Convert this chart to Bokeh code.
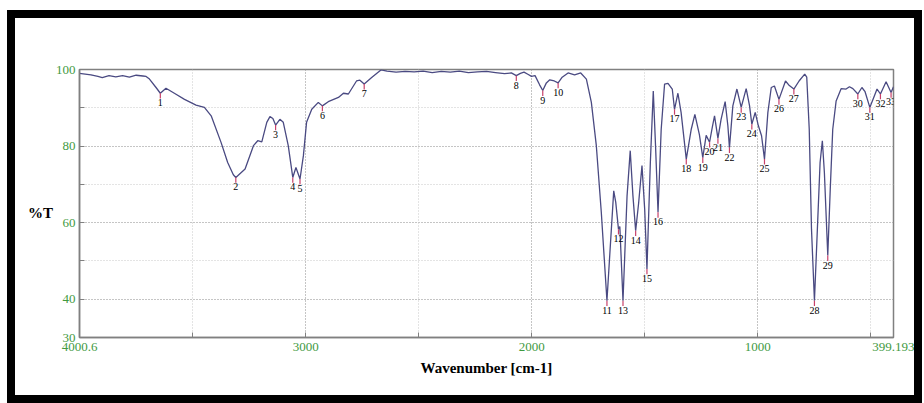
from bokeh.plotting import figure
from bokeh.models import Range1d, FixedTicker, Grid, ColumnDataSource
from bokeh.embed import file_html
from bokeh.resources import INLINE
from bokeh.core.properties import value

# ---- spectrum ----
wavenumber = [4000.6, 3950, 3919, 3900, 3870, 3840, 3810, 3780, 3750, 3720, 3706, 3691, 3662, 3643,
              3618, 3581, 3536, 3485, 3448, 3418, 3374, 3345, 3320, 3309, 3268, 3231, 3212, 3194,
              3172, 3158, 3145, 3133, 3114, 3099, 3077, 3057, 3043, 3025, 3010, 2996, 2973, 2944,
              2926, 2900, 2855, 2833, 2811, 2775, 2760, 2741, 2708, 2667, 2640, 2600, 2560, 2520,
              2480, 2440, 2400, 2360, 2320, 2280, 2240, 2200, 2160, 2120, 2090, 2068, 2050, 2034,
              2015, 2001, 1985, 1965, 1951, 1935, 1920, 1900, 1883, 1865, 1839, 1810, 1783, 1758,
              1736, 1714, 1692, 1667, 1652, 1637, 1628, 1616, 1610, 1596, 1578, 1564, 1552, 1540,
              1527, 1512, 1500, 1490, 1475, 1462, 1452, 1441, 1427, 1412, 1397, 1378, 1368, 1353,
              1339, 1316, 1294, 1278, 1258, 1243, 1228, 1213, 1201, 1191, 1176, 1162, 1144, 1132,
              1125, 1110, 1092, 1073, 1051, 1036, 1026, 1011, 997, 983, 970, 955, 940, 926, 906,
              877, 860, 840, 817, 792, 783, 772, 762, 749, 736, 724, 714, 705, 690, 679, 668, 653,
              631, 609, 594, 579, 557, 539, 525, 504, 484, 472, 457, 432, 410, 399.193]
transmittance = [99.0, 98.6, 98.2, 97.9, 98.4, 98.1, 98.4, 98.0, 98.5, 98.3, 98.2, 97.5, 95.3, 93.8,
                 95.1, 93.8, 92.2, 90.7, 90.1, 87.9, 80.9, 75.7, 72.5, 71.8, 74.0, 80.1, 81.4, 81.1,
                 86.2, 87.7, 87.2, 85.5, 87.0, 86.2, 80.1, 71.8, 74.4, 71.4, 77.5, 86.2, 89.6, 91.4,
                 90.5, 91.6, 92.7, 93.8, 93.6, 97.0, 97.2, 96.2, 97.9, 99.9, 99.6, 99.3, 99.5, 99.4,
                 99.6, 99.2, 99.5, 99.3, 99.6, 99.2, 99.4, 99.5, 99.2, 98.9, 99.1, 98.4, 99.0, 99.3,
                 98.7, 98.2, 98.4, 96.0, 94.5, 96.5, 97.3, 97.0, 96.5, 98.0, 99.1, 98.6, 99.1, 97.5,
                 91.4, 80.1, 62.7, 39.6, 54.0, 68.3, 65.3, 58.3, 59.0, 39.6, 67.0, 78.8, 67.0, 57.9,
                 65.0, 74.9, 63.5, 47.9, 75.7, 94.4, 80.1, 62.7, 84.4, 96.2, 96.4, 94.9, 89.6, 93.8,
                 88.8, 76.6, 84.4, 88.3, 83.0, 77.0, 82.8, 81.0, 84.9, 87.9, 82.0, 87.0, 91.6, 85.3,
                 79.6, 90.5, 94.9, 90.1, 95.0, 90.5, 85.7, 88.8, 85.3, 82.7, 76.6, 88.8, 95.3, 95.7, 92.2,
                 97.0, 95.8, 94.9, 97.0, 98.8, 98.0, 84.4, 58.3, 39.6, 58.3, 75.7, 81.4, 73.1, 51.4, 68.8, 84.4, 91.8,
                 95.0, 94.9, 95.5, 95.0, 93.6, 95.3, 94.2, 90.1, 93.1, 94.9, 93.6, 96.8, 94.0, 95.5]

# ---- picked peaks ----
peak_labels = [str(i) for i in range(1, 34)]
peak_wn = [3643, 3309, 3133, 3057, 3025, 2926, 2741, 2068, 1951, 1883, 1667, 1616, 1596, 1540,
           1490, 1441, 1368, 1316, 1243, 1213, 1176, 1125, 1073, 1026, 970, 906, 840, 749, 690,
           557, 504, 457, 410]
peak_t = [93.8, 71.8, 85.5, 71.8, 71.4, 90.5, 96.2, 98.4, 94.5, 96.5, 39.6, 58.3, 39.6, 57.9,
          47.9, 62.7, 89.6, 76.6, 77.0, 81.0, 82.0, 79.6, 90.1, 85.7, 76.6, 92.2, 94.9, 39.6, 51.4,
          93.6, 90.1, 93.6, 94.0]

# ---- axes ticks ----
x_ticks = [4000.6, 3000, 2000, 1000, 399.193]
x_tick_labels = ["4000.6", "3000", "2000", "1000", "399.193"]
x_minor = [3500, 2500, 1500, 500]
y_ticks = [100, 80, 60, 40, 30]
y_tick_labels = ["100", "80", "60", "40", "30"]
y_minor = [90, 70, 50]

SERIF = "Liberation Serif"
GREEN = "#3f9a3f"

p = figure(width=915, height=393, output_backend="svg", toolbar_location=None,
           x_range=Range1d(4000.6, 399.193), y_range=Range1d(30, 100),
           min_border_left=64, min_border_right=37, min_border_top=51, min_border_bottom=74)
p.styles = {"border": "8px solid black", "margin-left": "7px", "margin-top": "10px"}
p.background_fill_color = "white"
p.border_fill_color = "white"
p.outline_line_color = "#808080"
p.outline_line_width = 1.5

# grids
p.xgrid.ticker = FixedTicker(ticks=[3000, 2000, 1000])
p.ygrid.ticker = FixedTicker(ticks=[80, 60, 40])
for g in (p.xgrid[0], p.ygrid[0]):
    g.grid_line_color = "#8a8a8a"
    g.grid_line_dash = "1 2"
    g.grid_line_width = 1
p.add_layout(Grid(dimension=0, ticker=FixedTicker(ticks=x_minor),
                  grid_line_color="#c8c8c8", grid_line_dash="1 2", grid_line_width=1))
p.add_layout(Grid(dimension=1, ticker=FixedTicker(ticks=y_minor),
                  grid_line_color="#c8c8c8", grid_line_dash="1 2", grid_line_width=1))

# axes
xa = p.xaxis[0]
xa.ticker = FixedTicker(ticks=x_ticks, minor_ticks=x_minor)
xa.major_label_overrides = dict(zip(x_ticks, x_tick_labels))
ya = p.yaxis[0]
ya.ticker = FixedTicker(ticks=y_ticks, minor_ticks=y_minor)
ya.major_label_overrides = dict(zip(y_ticks, y_tick_labels))
for ax in (xa, ya):
    ax.axis_line_color = "#808080"
    ax.axis_line_width = 1.5
    ax.major_tick_in = 5
    ax.major_tick_out = 0
    ax.minor_tick_in = 5
    ax.minor_tick_out = 0
    ax.major_tick_line_color = "#808080"
    ax.minor_tick_line_color = "#808080"
    ax.major_label_text_font = SERIF
    ax.major_label_text_font_size = "13px"
    ax.major_label_text_color = GREEN
    ax.axis_label_text_font = SERIF
    ax.axis_label_text_font_style = "bold"
    ax.axis_label_text_font_size = "15px"
    ax.axis_label_text_color = "black"
xa.major_label_standoff = 5
ya.major_label_standoff = 4
xa.axis_label = "Wavenumber [cm-1]"
xa.axis_label_standoff = 6

ya.axis_label_orientation = "horizontal"
ya.axis_label = "\n%T"
ya.axis_label_standoff = 0

# spectrum
p.line(wavenumber, transmittance, line_color="#4a4a82", line_width=1.3)

# peak markers and labels
src = ColumnDataSource(dict(x=peak_wn, y=peak_t, y1=[t - 1.4 for t in peak_t], lab=peak_labels))
p.segment(x0="x", y0="y", x1="x", y1="y1", source=src, line_color="#c8406a", line_width=1.2)
p.text(x="x", y="y", text="lab", source=src, text_font=value(SERIF), text_font_size="10px",
       text_color="black", text_align="center", text_baseline="top", y_offset=6)

open("out.html", "w").write(file_html(p, INLINE))
